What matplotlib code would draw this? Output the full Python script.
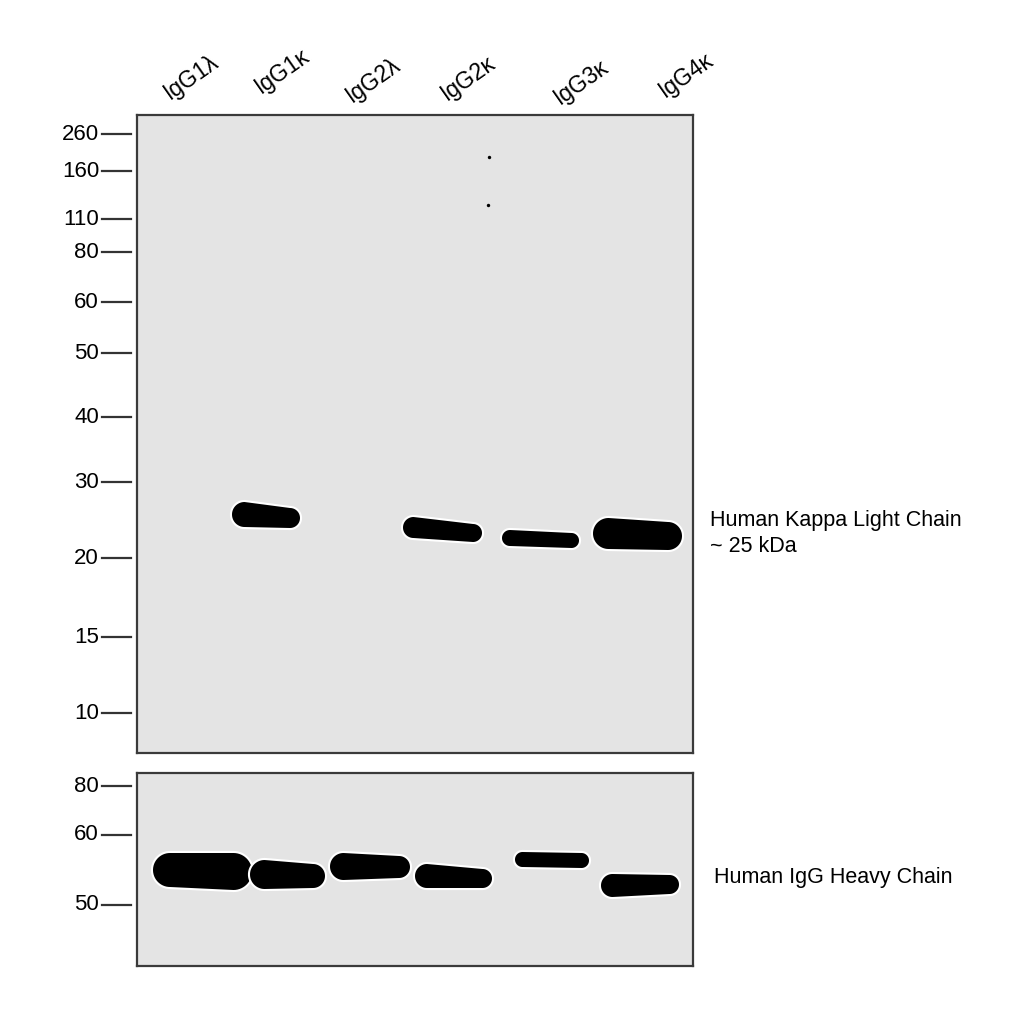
import numpy as np
import matplotlib
matplotlib.use('Agg')
import matplotlib.pyplot as plt
import matplotlib.patheffects as pe

# Gel coordinates are in image pixels (x across, y = migration from top)
lanes = ['IgG1λ', 'IgG1κ', 'IgG2λ', 'IgG2κ', 'IgG3κ', 'IgG4κ']
lane_label_x = [170, 261, 352, 447, 560, 665]
lane_label_y = [100, 94, 103, 101, 105, 98]

# Ladder (kDa) and where each marker ran
top_markers = ['260', '160', '110', '80', '60', '50', '40', '30', '20', '15', '10']
top_marker_y = [134, 171, 219, 252, 302, 353, 417, 482, 558, 637, 713]
bot_markers = ['80', '60', '50']
bot_marker_y = [786, 835, 905]

# Kappa light chain bands: left/right edge, top edge (left, right), bottom edge (left, right)
kappa_lane = ['IgG1κ', 'IgG2κ', 'IgG3κ', 'IgG4κ']
kappa_x0 = [232, 403, 502, 593]
kappa_x1 = [300, 482, 579, 682]
kappa_top0 = [502, 517, 530, 518]
kappa_top1 = [508, 524, 533, 522]
kappa_bot0 = [527, 538, 546, 549]
kappa_bot1 = [528, 542, 548, 550]

# Heavy chain bands
heavy_lane = ['IgG1λ', 'IgG1κ', 'IgG2λ', 'IgG2κ', 'IgG3κ', 'IgG4κ']
heavy_x0 = [153, 250, 330, 415, 515, 601]
heavy_x1 = [252, 325, 410, 492, 589, 679]
heavy_top0 = [853, 860, 853, 864, 852, 874]
heavy_top1 = [853, 864, 856, 869, 853, 875]
heavy_bot0 = [887, 889, 880, 888, 867, 897]
heavy_bot1 = [890, 888, 878, 888, 868, 894]

# faint dust specks in the IgG2κ lane
speck_x = [489, 488]
speck_y = [157, 205]

plt.rcParams['font.family'] = ['Liberation Sans', 'DejaVu Sans']

W = 1024
fig = plt.figure(figsize=(10.24, 10.24), dpi=100)
fig.patch.set_facecolor('white')


def panel(x0, x1, y0, y1):
    ax = fig.add_axes([x0 / W, 1 - y1 / W, (x1 - x0) / W, (y1 - y0) / W])
    ax.set_xlim(x0, x1)
    ax.set_ylim(y1, y0)
    ax.set_facecolor('#e4e4e4')
    ax.set_xticks([])
    ax.set_yticks([])
    for s in ax.spines.values():
        s.set_color('#3a3a3a')
        s.set_linewidth(1.6)
    return ax


def blob(x0, x1, t0, t1, b0, b1):
    # rounded-end band outline
    r0 = (b0 - t0) / 2
    r1 = (b1 - t1) / 2
    c0, c1 = (t0 + b0) / 2, (t1 + b1) / 2
    a = np.linspace(-np.pi / 2, np.pi / 2, 30)
    right_x = x1 - r1 + r1 * np.cos(a)
    right_y = c1 + r1 * np.sin(a)
    left_x = x0 + r0 - r0 * np.cos(a)
    left_y = c0 - r0 * np.sin(a)
    return np.r_[right_x, left_x], np.r_[right_y, left_y]


def bands(ax, x0, x1, t0, t1, b0, b1):
    for row in zip(x0, x1, t0, t1, b0, b1):
        xs, ys = blob(*row)
        ax.fill(xs, ys, color='black', lw=0,
                path_effects=[pe.Stroke(linewidth=3, foreground='white'), pe.Normal()])


def ladder(ax, labels, ys):
    for lab, y in zip(labels, ys):
        ax.plot([102, 131], [y, y], color='#333333', lw=1.6, clip_on=False)
        ax.text(99, y, lab, ha='right', va='center', fontsize=16, color='black')


top = panel(137, 693, 115, 753)
bot = panel(137, 693, 773, 966)

bands(top, kappa_x0, kappa_x1, kappa_top0, kappa_top1, kappa_bot0, kappa_bot1)
bands(bot, heavy_x0, heavy_x1, heavy_top0, heavy_top1, heavy_bot0, heavy_bot1)
top.scatter(speck_x, speck_y, s=6, color='black', marker='o', linewidths=0)

ladder(top, top_markers, top_marker_y)
ladder(bot, bot_markers, bot_marker_y)

for lab, x, y in zip(lanes, lane_label_x, lane_label_y):
    top.text(x, y, lab, rotation=35, rotation_mode='anchor', ha='left',
             va='baseline', fontsize=16.5, clip_on=False)

top.text(710, 520, 'Human Kappa Light Chain', ha='left', va='center',
         fontsize=15.5, clip_on=False)
top.text(710, 546, '~ 25 kDa', ha='left', va='center',
         fontsize=15.5, clip_on=False)
bot.text(714, 877, 'Human IgG Heavy Chain', ha='left', va='center',
         fontsize=15.5, clip_on=False)

fig.savefig('out.png', dpi=100)
